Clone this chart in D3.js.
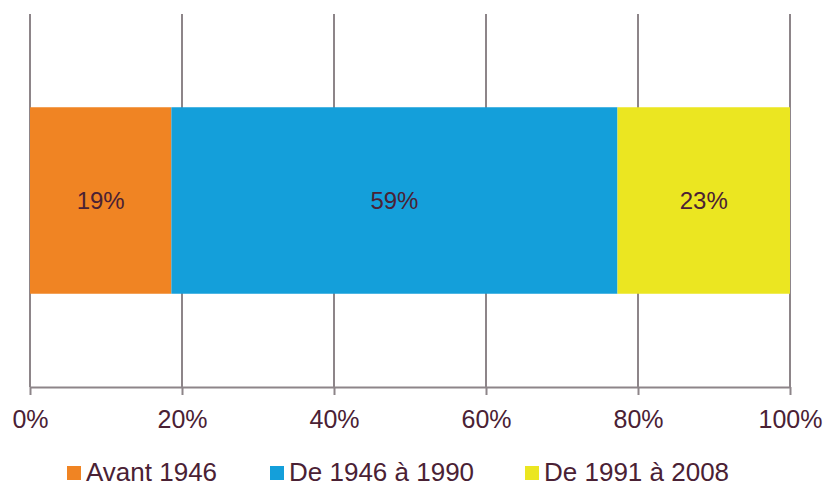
<!DOCTYPE html>
<html>
<head>
<meta charset="utf-8">
<script src="https://cdn.jsdelivr.net/npm/d3@7"></script>
<style>
  body { margin: 0; background: #fff; }
  svg { display: block; font-family: "Liberation Sans", Arial, sans-serif; }
</style>
</head>
<body>
<div id="chart"></div>
<script>
// Data
const periods = ['Avant 1946', 'De 1946 à 1990', 'De 1991 à 2008'];
const shares = [18.6, 58.7, 22.7];
const colors = ['#f08423', '#149fda', '#ebe621'];
const tickValues = [0, 20, 40, 60, 80, 100];

const width = 827;
const height = 487;
const margin = { top: 14, right: 37, bottom: 100, left: 30 };
const textColor = '#4a2134';
const gridColor = '#8d8589';

const svg = d3.select('#chart')
    .append('svg')
    .attr('width', width)
    .attr('height', height);

const x = d3.scaleLinear()
    .domain([0, 100])
    .range([margin.left, width - margin.right]);

const y = d3.scaleBand()
    .domain(['all'])
    .range([margin.top, height - margin.bottom])
    .paddingInner(0)
    .paddingOuter(0.5);

// Vertical gridlines
svg.append('g')
    .selectAll('line')
    .data(tickValues)
    .enter()
    .append('line')
    .attr('x1', d => x(d))
    .attr('x2', d => x(d))
    .attr('y1', margin.top)
    .attr('y2', height - margin.bottom)
    .attr('stroke', gridColor)
    .attr('stroke-width', 2);

// Stacked segments
const starts = d3.cumsum([0].concat(shares.slice(0, -1)));
const segs = shares.map((v, i) => ({ v, start: starts[i], color: colors[i] }));

svg.append('g')
    .selectAll('rect')
    .data(segs)
    .enter()
    .append('rect')
    .attr('x', d => x(d.start))
    .attr('width', d => x(d.start + d.v) - x(d.start))
    .attr('y', y('all'))
    .attr('height', y.bandwidth())
    .attr('fill', d => d.color);

svg.append('g')
    .selectAll('text')
    .data(segs)
    .enter()
    .append('text')
    .attr('x', d => x(d.start + d.v / 2))
    .attr('y', y('all') + y.bandwidth() / 2)
    .attr('dy', '0.35em')
    .attr('text-anchor', 'middle')
    .attr('font-size', '24px')
    .attr('fill', textColor)
    .text(d => Math.round(d.v) + '%');

// Bottom axis
const axis = svg.append('g')
    .attr('transform', `translate(0,${height - margin.bottom})`)
    .call(d3.axisBottom(x)
        .tickValues(tickValues)
        .tickFormat(d => d + '%')
        .tickSize(8)
        .tickSizeOuter(0)
        .tickPadding(15));

axis.select('.domain').attr('stroke', gridColor).attr('stroke-width', 2);
axis.selectAll('.tick line').attr('stroke', gridColor).attr('stroke-width', 2);
axis.selectAll('.tick text')
    .attr('font-size', '25px')
    .attr('font-family', '"Liberation Sans", Arial, sans-serif')
    .attr('fill', textColor);

// Legend
const legendX = [67, 270, 525];
const legend = svg.append('g')
    .selectAll('g')
    .data(periods)
    .enter()
    .append('g')
    .attr('transform', (d, i) => `translate(${legendX[i]},466)`);

legend.append('rect')
    .attr('width', 14)
    .attr('height', 14)
    .attr('fill', (d, i) => colors[i]);

legend.append('text')
    .attr('x', 19)
    .attr('y', 15)
    .attr('font-size', '26px')
    .attr('fill', textColor)
    .text(d => d);
</script>
</body>
</html>
